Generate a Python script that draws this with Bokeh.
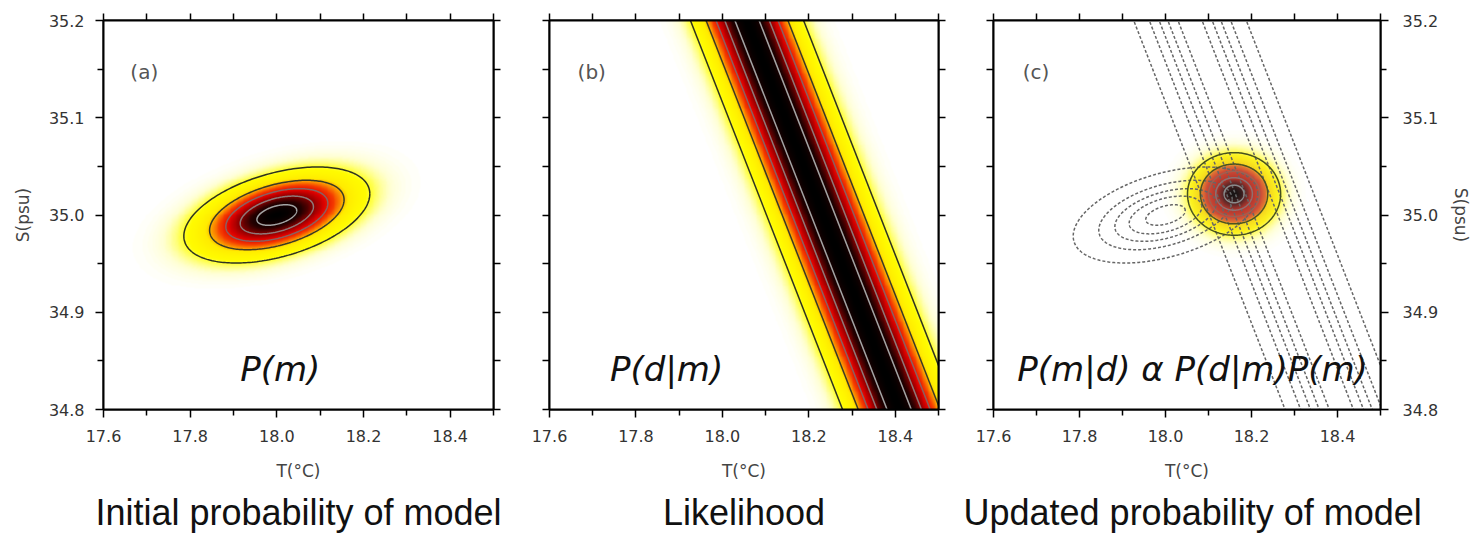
import numpy as np
from bokeh.plotting import figure
from bokeh.models import (LinearAxis, FixedTicker, PrintfTickFormatter,
                          LinearColorMapper, Label, Title, Range1d)
from bokeh.layouts import row
from bokeh.embed import file_html
from bokeh.resources import INLINE

# ---------------- data ----------------
T_RANGE = [17.6, 18.5]
S_RANGE = [34.8, 35.2]
T_TICKS = [17.6, 17.8, 18.0, 18.2, 18.4]
T_MINOR = [17.7, 17.9, 18.1, 18.3, 18.5]
S_TICKS = [34.8, 34.9, 35.0, 35.1, 35.2]
S_MINOR = [34.85, 34.95, 35.05, 35.15]

PRIOR_MEAN = [18.0, 35.0]
PRIOR_STD = [0.100, 0.023]
PRIOR_CORR = 0.44

LIKE_S0 = 35.0
LIKE_T_AT_S0 = 18.233
LIKE_DT_DS = -0.88
LIKE_STD_T = 0.061

LEVELS = [0.1, 0.3, 0.5, 0.7, 0.9]

PANEL_TAGS = ["(a)", "(b)", "(c)"]
FORMULAS = ["P(m)", "P(d|m)", "P(m|d) \u03b1 P(d|m)P(m)"]
CAPTIONS = ["Initial probability of model", "Likelihood", "Updated probability of model"]
X_LABEL = "T(\u00b0C)"
Y_LABEL = "S(psu)"

# ---------------- styles ----------------
TICK_FONT = "DejaVu Sans"
LEVEL_COLORS = ["#2e3320", "#3a3a26", "#8a6060", "#8e7878", "#a4a4a4"]
POST_COLORS = ["#45501e", "#4a5322", "#a06050", "#907070", "#8a8a8a"]
DASH_COLOR = "#666666"

HOT_ANCHORS = [(0.00, (255, 255, 255)), (0.03, (255, 255, 210)), (0.08, (255, 255, 80)),
               (0.12, (255, 252, 0)), (0.26, (255, 235, 0)), (0.32, (252, 160, 0)),
               (0.42, (245, 60, 0)), (0.55, (220, 0, 0)), (0.70, (135, 0, 0)),
               (0.85, (35, 0, 0)), (1.00, (0, 0, 0))]
POST_ANCHORS = [(0.00, (255, 255, 255)), (0.03, (255, 255, 215)), (0.08, (255, 252, 110)),
                (0.13, (252, 242, 30)), (0.27, (245, 215, 30)), (0.33, (225, 120, 50)),
                (0.45, (205, 75, 55)), (0.72, (180, 55, 45)), (0.88, (90, 40, 40)),
                (1.00, (25, 20, 20))]


def make_palette(anchors):
    xs = [a[0] for a in anchors]
    out = []
    for i in range(256):
        v = i / 255
        r = np.interp(v, xs, [a[1][0] for a in anchors])
        g = np.interp(v, xs, [a[1][1] for a in anchors])
        b = np.interp(v, xs, [a[1][2] for a in anchors])
        out.append("#%02x%02x%02x" % (int(round(r)), int(round(g)), int(round(b))))
    return out


# ---------------- model fields ----------------
nx, ny = 450, 400
tt = np.linspace(T_RANGE[0], T_RANGE[1], nx)
ss = np.linspace(S_RANGE[0], S_RANGE[1], ny)
TT, SS = np.meshgrid(tt, ss)

mu = np.array(PRIOR_MEAN)
cov = np.array([[PRIOR_STD[0] ** 2, PRIOR_CORR * PRIOR_STD[0] * PRIOR_STD[1]],
                [PRIOR_CORR * PRIOR_STD[0] * PRIOR_STD[1], PRIOR_STD[1] ** 2]])


def gauss_field(m, c):
    ci = np.linalg.inv(c)
    dT = TT - m[0]
    dS = SS - m[1]
    q = ci[0, 0] * dT ** 2 + 2 * ci[0, 1] * dT * dS + ci[1, 1] * dS ** 2
    return np.exp(-0.5 * q)


def center_T(s):
    return LIKE_T_AT_S0 + LIKE_DT_DS * (np.asarray(s) - LIKE_S0)


Z_prior = gauss_field(mu, cov)
Z_like = np.exp(-0.5 * ((TT - center_T(SS)) / LIKE_STD_T) ** 2)
Z_post = Z_prior * Z_like
Z_post = Z_post / Z_post.max()

# analytic posterior
h = np.array([1.0, -LIKE_DT_DS])
innov = LIKE_T_AT_S0 - (mu @ h - (-LIKE_DT_DS) * LIKE_S0)
Sh = cov @ h
den = h @ Sh + LIKE_STD_T ** 2
post_mu = mu + Sh * innov / den
post_cov = cov - np.outer(Sh, Sh) / den


def ellipse(m, c, level):
    k = np.sqrt(-2 * np.log(level))
    L = np.linalg.cholesky(c)
    th = np.linspace(0, 2 * np.pi, 240)
    pts = m[:, None] + k * (L @ np.vstack([np.cos(th), np.sin(th)]))
    return pts[0], pts[1]


def band_lines(level):
    k = np.sqrt(-2 * np.log(level))
    s = np.array([S_RANGE[0] - 0.05, S_RANGE[1] + 0.05])
    return [(center_T(s) + sgn * k * LIKE_STD_T, s) for sgn in (-1, 1)]


# ---------------- figures ----------------
def style_axis(ax):
    ax.axis_line_color = "black"
    ax.axis_line_width = 2
    ax.major_tick_line_color = "black"
    ax.minor_tick_line_color = "black"
    ax.major_tick_line_width = 1.5
    ax.minor_tick_line_width = 1.5
    ax.major_tick_in = 0
    ax.minor_tick_in = 0
    ax.major_tick_out = 8
    ax.minor_tick_out = 6
    ax.major_label_text_font = TICK_FONT
    ax.major_label_text_color = "#333333"
    ax.major_label_text_font_size = "16px"
    ax.axis_label_text_font = TICK_FONT
    ax.axis_label_text_font_style = "normal"
    ax.axis_label_text_color = "#444444"
    ax.axis_label_text_font_size = "17px"


def set_ticks(ax, major, minor, labels):
    if labels:
        ax.ticker = FixedTicker(ticks=major, minor_ticks=minor)
        ax.formatter = PrintfTickFormatter(format="%.1f")
    else:
        ax.ticker = FixedTicker(ticks=[], minor_ticks=sorted(major + minor))
        ax.major_label_standoff = 0
    style_axis(ax)
    if not labels:
        ax.minor_tick_out = 7


def make_fig(idx, width, left, right, yloc, title_align, title_offset):
    p = figure(width=width, height=539, x_range=Range1d(*T_RANGE), y_range=Range1d(*S_RANGE),
               output_backend="svg", toolbar_location=None,
               min_border_left=left, min_border_right=right,
               min_border_top=20, min_border_bottom=130,
               y_axis_location=yloc)
    p.grid.visible = False
    p.outline_line_color = "black"
    p.outline_line_width = 2
    p.background_fill_color = "white"
    p.border_fill_color = None

    xb = p.xaxis[0]
    set_ticks(xb, T_TICKS, T_MINOR, True)
    xb.axis_label = X_LABEL
    xb.major_label_standoff = 12
    xb.axis_label_standoff = 16

    top = LinearAxis()
    set_ticks(top, T_TICKS, T_MINOR, False)
    p.add_layout(top, "above")

    yb = p.yaxis[0]
    labelled = (idx == 0) or (idx == 2)
    set_ticks(yb, S_TICKS, S_MINOR, labelled)
    other = LinearAxis()
    set_ticks(other, S_TICKS, S_MINOR, False)
    if labelled:
        yb.axis_label = Y_LABEL
    if yloc == "left":
        yb.major_label_standoff = 11
        yb.axis_label_standoff = 13
        p.add_layout(other, "right")
    else:
        yb.major_label_standoff = 14
        yb.axis_label_standoff = 10
        p.add_layout(other, "left")

    p.add_layout(Title(text=CAPTIONS[idx], align=title_align, text_font="Liberation Sans",
                       text_font_size="36px", text_font_style="normal",
                       text_color="#111111", standoff=12, offset=title_offset), "below")
    return p


pa = make_fig(0, 521, 103, 28, "left", "center", 0)
pb = make_fig(1, 432, 28, 15, "left", "center", 0)
pc = make_fig(2, 523, 40, 96, "right", "left", -30)

hot = LinearColorMapper(palette=make_palette(HOT_ANCHORS), low=0, high=1)
post = LinearColorMapper(palette=make_palette(POST_ANCHORS), low=0, high=1)

dw = T_RANGE[1] - T_RANGE[0]
dh = S_RANGE[1] - S_RANGE[0]

# (a) prior
pa.image(image=[Z_prior], x=T_RANGE[0], y=S_RANGE[0], dw=dw, dh=dh, color_mapper=hot)
for lev, col in zip(LEVELS, LEVEL_COLORS):
    ex, ey = ellipse(mu, cov, lev)
    pa.line(ex, ey, line_color=col, line_width=1.5)

# (b) likelihood
pb.image(image=[Z_like], x=T_RANGE[0], y=S_RANGE[0], dw=dw, dh=dh, color_mapper=hot)
for lev, col in zip(LEVELS, LEVEL_COLORS):
    for lx, ly in band_lines(lev):
        pb.line(lx, ly, line_color=col, line_width=1.5)

# (c) posterior
pc.image(image=[Z_post], x=T_RANGE[0], y=S_RANGE[0], dw=dw, dh=dh, color_mapper=post)
for lev in LEVELS:
    ex, ey = ellipse(mu, cov, lev)
    pc.line(ex, ey, line_color=DASH_COLOR, line_width=1.5, line_dash="3 2")
    for lx, ly in band_lines(lev):
        pc.line(lx, ly, line_color=DASH_COLOR, line_width=1.5, line_dash="3 2")
for lev, col in zip(LEVELS, POST_COLORS):
    ex, ey = ellipse(post_mu, post_cov, lev)
    pc.line(ex, ey, line_color=col, line_width=1.5)

# labels
TAG_POS = [(17.662, 35.147), (17.665, 35.147), (17.668, 35.147)]
FORM_POS = [(18.008, 34.842), (17.871, 34.842), (18.063, 34.842)]
for p, tag, tp, form, fp in zip([pa, pb, pc], PANEL_TAGS, TAG_POS, FORMULAS, FORM_POS):
    p.add_layout(Label(x=tp[0], y=tp[1], text=tag, text_font=TICK_FONT, text_font_size="20px",
                       text_color="#555555", text_align="left", text_baseline="middle"))
    p.add_layout(Label(x=fp[0], y=fp[1], text=form, text_font=TICK_FONT, text_font_size="34px",
                       text_font_style="italic", text_color="#111111",
                       text_align="center", text_baseline="alphabetic"))

layout = row(pa, pb, pc)
open("out.html", "w").write(file_html(layout, INLINE))
